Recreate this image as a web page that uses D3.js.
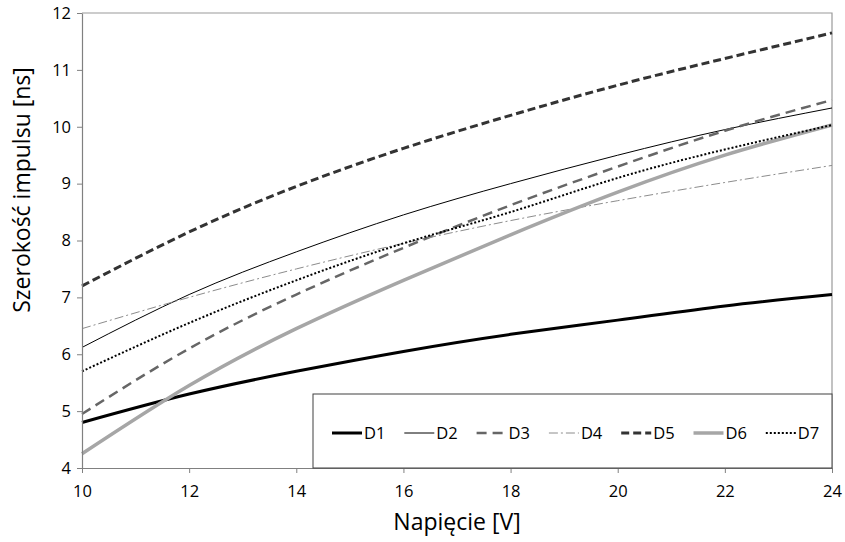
<!DOCTYPE html>
<html><head><meta charset="utf-8">
<script src="https://cdn.jsdelivr.net/npm/d3@7"></script>
<style>body{margin:0;background:#fff}svg{display:block}</style>
</head><body>
<svg id="c" width="845" height="542"></svg>
<script>
const voltages = [10, 12, 14, 16, 18, 20, 22, 24];
const D1 = [4.80, 5.30, 5.70, 6.05, 6.35, 6.60, 6.85, 7.05];
const D2 = [6.12, 7.05, 7.80, 8.45, 9.00, 9.50, 9.95, 10.33];
const D3 = [4.95, 6.10, 7.05, 7.87, 8.62, 9.30, 9.93, 10.47];
const D4 = [6.45, 7.00, 7.50, 7.95, 8.35, 8.70, 9.02, 9.32];
const D5 = [7.20, 8.15, 8.95, 9.62, 10.20, 10.73, 11.20, 11.65];
const D6 = [4.25, 5.45, 6.45, 7.30, 8.10, 8.85, 9.50, 10.03];
const D7 = [5.70, 6.55, 7.30, 7.95, 8.50, 9.10, 9.60, 10.03];
const seriesNames = ["D1","D2","D3","D4","D5","D6","D7"];
const seriesValues = [D1, D2, D3, D4, D5, D6, D7];
const xTicks = [10, 12, 14, 16, 18, 20, 22, 24];
const yTicks = [4, 5, 6, 7, 8, 9, 10, 11, 12];
const xTitle = "Napięcie [V]";
const yTitle = "Szerokość impulsu [ns]";

const styles = {
  D1: {stroke:"#000", w:3, dash:null},
  D2: {stroke:"#000", w:1, dash:null},
  D3: {stroke:"#666", w:2.5, dash:"10,6"},
  D4: {stroke:"#8c8c8c", w:1, dash:"9,3,2,3"},
  D5: {stroke:"#333", w:3, dash:"8,4"},
  D6: {stroke:"#a6a6a6", w:3.5, dash:null},
  D7: {stroke:"#000", w:2, dash:"2,2"}
};

const svg = d3.select("#c");
const L = 82, R = 832, T = 13, B = 468;
const x = d3.scaleLinear().domain([10, 24]).range([L, R]);
const y = d3.scaleLinear().domain([4, 12]).range([B, T]);
const font = "'Liberation Sans Narrow','Open Sans',sans-serif";
const fontT = "'Open Sans',sans-serif";

// plot border (top/right)
svg.append("path").attr("d", `M${L},${T}H${R}V${B}`).attr("fill","none").attr("stroke","#9a9a9a").attr("stroke-width",1.2);

const line = d3.line().x((d,i)=>x(voltages[i])).y(d=>y(d)).curve(d3.curveNatural);
const g = svg.append("g");
seriesNames.forEach((n,k)=>{
  const s = styles[n];
  g.append("path").datum(seriesValues[k]).attr("d", line).attr("fill","none")
    .attr("stroke", s.stroke).attr("stroke-width", s.w)
    .attr("stroke-dasharray", s.dash);
});

// axes
const xAxis = svg.append("g").attr("transform",`translate(0,${B})`)
  .call(d3.axisBottom(x).tickValues(xTicks).tickSize(5).tickSizeOuter(0).tickPadding(8));
const yAxis = svg.append("g").attr("transform",`translate(${L},0)`)
  .call(d3.axisLeft(y).tickValues(yTicks).tickSize(5).tickSizeOuter(0).tickPadding(6));
[xAxis, yAxis].forEach(a=>{
  a.select(".domain").attr("stroke","#808080").attr("stroke-width",1.2);
  a.selectAll(".tick line").attr("stroke","#808080");
  a.selectAll(".tick text").attr("font-family",font).attr("font-size",16.5).attr("fill","#000");
});
xAxis.selectAll(".tick text").attr("dy","0.95em");

// legend
const lg = svg.append("g");
lg.append("rect").attr("x",313).attr("y",394).attr("width",R-313).attr("height",B-394)
  .attr("fill","#fff").attr("stroke","#404040").attr("stroke-width",1);
seriesNames.forEach((n,k)=>{
  const s = styles[n];
  const x0 = 332 + k*72.3;
  lg.append("line").attr("x1",x0).attr("x2",x0+30).attr("y1",433).attr("y2",433)
    .attr("stroke",s.stroke).attr("stroke-width",s.w).attr("stroke-dasharray",s.dash);
  lg.append("text").attr("x",x0+32).attr("y",433).attr("dy","0.35em")
    .attr("font-family",font).attr("font-size",16.5).attr("fill","#000").text(n);
});

// titles
svg.append("text").attr("x",(L+R)/2).attr("y",530).attr("text-anchor","middle")
  .attr("font-family",fontT).attr("font-size",23).attr("fill","#000").text(xTitle);
svg.append("text").attr("transform",`translate(30,190) rotate(-90)`).attr("text-anchor","middle")
  .attr("font-family",fontT).attr("font-size",23).attr("fill","#000").text(yTitle);
</script>
</body></html>
